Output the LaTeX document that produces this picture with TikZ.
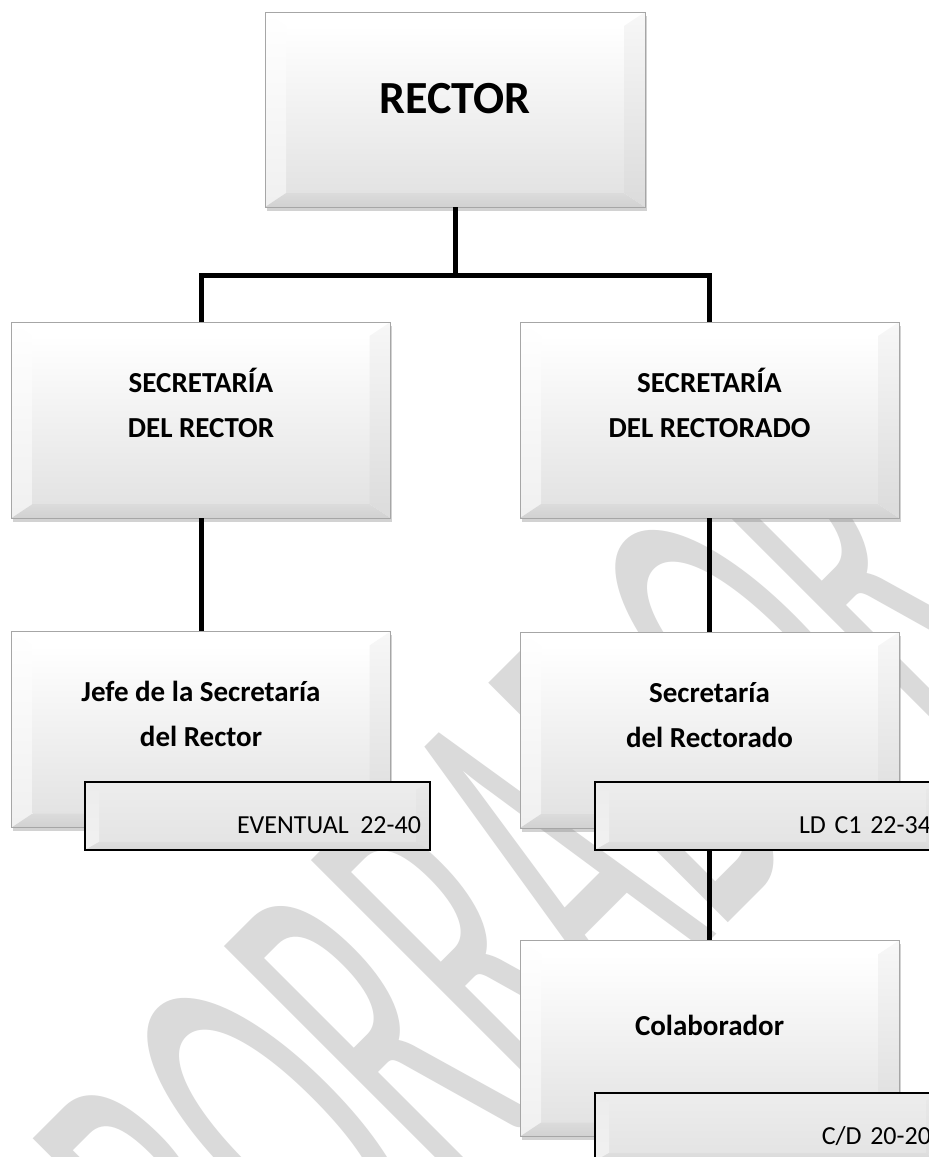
\documentclass[tikz,border=0pt]{standalone}
\usepackage{fontspec}
\setmainfont{Carlito}
\usetikzlibrary{shadows}
\definecolor{wmgray}{HTML}{DADADA}
\newcommand\tagfnt{\fontsize{26}{30}\selectfont\spaceskip 5.8pt\relax}
\newcommand\bvlbox[9]{%
 \path (path picture bounding box.south west) coordinate (bSW)
       (path picture bounding box.south east) coordinate (bSE)
       (path picture bounding box.north east) coordinate (bNE)
       (path picture bounding box.north west) coordinate (bNW);
 \path ([xshift=#1pt,yshift=#2pt]bSW) coordinate (iSW)
       ([xshift=-#1pt,yshift=#2pt]bSE) coordinate (iSE)
       ([xshift=-#1pt,yshift=-#2pt]bNE) coordinate (iNE)
       ([xshift=#1pt,yshift=-#2pt]bNW) coordinate (iNW);
 \shade[top color=#3, middle color=#9, bottom color=#4] (iSW) rectangle (iNE);
 \fill[#3] (bNW) -- (bNE) -- (iNE) -- (iNW) -- cycle;
 \shade[top color=#3, bottom color=#5] (bNW) -- (iNW) -- (iSW) -- (bSW) -- cycle;
 \shade[top color=#6, bottom color=#7] (bNE) -- (iNE) -- (iSE) -- (bSE) -- cycle;
 \shade[top color=#7, bottom color=#8] (bSW) -- (iSW) -- (iSE) -- (bSE) -- cycle;
}
\begin{document}
\begin{tikzpicture}[x=1pt,y=-1pt,
  conn/.style={line width=5pt, black},
  orgbox/.style={rectangle, minimum width=379pt, minimum height=196pt, inner sep=0pt,
    draw=gray!70, line width=0.8pt, fill=white,
    drop shadow={shadow xshift=1.5pt, shadow yshift=-3.5pt, opacity=0.35},
    path picture={\bvlbox{21}{14}{white}{gray!22}{gray!12}{gray!6}{gray!28}{gray!36}{gray!6}},
    font=\bfseries\fontsize{29}{45}\selectfont, align=center,
    text height=19pt, text depth=28pt},
  twoline/.style={text height=62pt, text depth=28pt},
  tagbox/.style={rectangle, minimum height=68pt, text width=327pt, inner xsep=9pt, inner ysep=0pt,
    draw=black, line width=2pt, fill=gray!18,
    path picture={\bvlbox{14}{8}{gray!15}{gray!21}{gray!11}{gray!17}{gray!26}{gray!30}{gray!17}},
    font=\tagfnt, align=right,
    text height=34pt, text depth=0pt},
  wmark/.style={inner sep=0pt, text=wmgray, font=\fontsize{528}{528}\selectfont}
]
\useasboundingbox (0,0) rectangle (929,1157);
\fill[white] (0,0) rectangle (929,1157);

% watermark
\begin{scope}[shift={(514,897)}, cm={0.301,0.301,-0.7071,0.7071,(0,0)}]
\node[wmark, transform shape] (wm) at (0,0) {BORRADOR};
\end{scope}

% boxes
\node[orgbox, minimum width=380pt, minimum height=195pt,
      font=\bfseries\fontsize{46}{50}\selectfont, text height=30pt, text depth=22pt] (rector) at (455,109.5) {RECTOR};
\node[orgbox, twoline] (sr)   at (201,420)    {SECRETARÍA\\DEL RECTOR};
\node[orgbox, twoline] (srdo) at (709.5,420)  {SECRETARÍA\\DEL RECTORADO};
\node[orgbox, twoline] (jefe) at (201,729.5)  {Jefe de la Secretaría\\del Rector};
\node[orgbox, twoline] (sec)  at (709.5,730)  {Secretaría\\del Rectorado};
\node[orgbox, text depth=26pt] (colab) at (709.5,1038.5) {Colaborador};

% connectors
\coordinate (hub) at (455,275);
\draw[conn] (rector.south) -- (hub);
\draw[conn] (sr.north) -- (sr.north |- hub) -- (srdo.north |- hub) -- (srdo.north);
\draw[conn] (sr.south) -- (jefe.north);
\draw[conn] (srdo.south) -- (sec.north);
\draw[conn] (sec.south) -- (colab.north);

% tags
\node[tagbox] (tev) at (257.5,816) {EVENTUAL\kern 11.6pt 22-40};
\node[tagbox] (tld) at (767.5,816) {LD C1 22-34};
\node[tagbox] (tcd) at (767.5,1127) {C/D 20-20};
\end{tikzpicture}
\end{document}
